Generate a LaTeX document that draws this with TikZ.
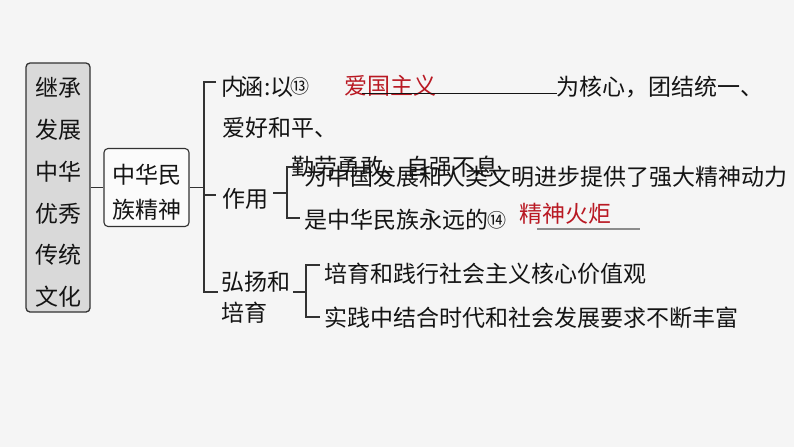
\documentclass[tikz,border=0pt]{standalone}
\usepackage{fontspec}
\setmainfont{Noto Sans CJK SC}
\definecolor{bgc}{RGB}{245,245,245}
\definecolor{ink}{RGB}{20,20,20}
\definecolor{linec}{RGB}{50,50,50}
\definecolor{redc}{RGB}{185,25,35}
\definecolor{boxfill}{RGB}{217,217,217}
\definecolor{ulgray}{RGB}{140,140,140}
\begin{document}
\begin{tikzpicture}[x=1pt,y=-1pt,
  txt/.style={anchor=base west, inner sep=0pt, text=ink, font=\fontsize{23}{23}\selectfont},
  redtxt/.style={txt, text=redc},
  circnum/.style={anchor=center, inner sep=0pt, text=ink, font=\fontsize{19}{19}\selectfont},
  conn/.style={draw=linec, line width=1.1pt},
  lbox/.style={draw=linec, line width=1.3pt, fill=boxfill, rounded corners=4pt, minimum width=64pt, minimum height=249pt, inner sep=0pt},
  mbox/.style={draw=linec, line width=1.1pt, fill=white!60!bgc, rounded corners=4pt, minimum width=85pt, minimum height=78pt, inner sep=0pt},
  boxtxt/.style={anchor=center, align=center, inner sep=0pt, text=ink}
]
\fill[bgc] (0,0) rectangle (794,447);
\useasboundingbox (0,0) rectangle (794,447);

% boxes
\node[lbox] (L) at (58,187.5) {};
\node[boxtxt, font=\fontsize{23}{41.8}\selectfont] (Ltxt) at (58,192.5) {继承\\发展\\中华\\优秀\\传统\\文化};
\node[mbox] (M) at (146.5,187.5) {};
\node[boxtxt, font=\fontsize{23}{35}\selectfont] (Mtxt) at (146.5,192.5) {中华民\\族精神};
\draw[conn] (L.east) -- (M.west);

% main bracket
\coordinate (j) at (204,187.5);
\coordinate (bt) at (204,82);
\coordinate (bt0) at (216,82);
\coordinate (bm) at (204,195);
\coordinate (bm0) at (216,195);
\coordinate (bb) at (204,292);
\coordinate (bb0) at (218,292);
\draw[conn] (M.east) -- (j);
\draw[conn] (bt0) -- (bt) -- (bb) -- (bb0);
\draw[conn] (bm) -- (bm0);

% 内涵
\node[txt] (nha) at (221,95.7) {内};
\node[txt] (nhb) at (240.5,95.7) {涵};
\node[txt, anchor=base] (colon) at (267.5,95.7) {:};
\node[txt] (yi) at (270.5,95.7) {以};
\node[circnum] (n13) at (300,86.5) {⑬};
\node[redtxt] (ans13) at (344,94) {爱国主义};
\coordinate (u1a) at (362,93);
\coordinate (u1b) at (557,93);
\draw[draw=ink, line width=1pt] (u1a) -- (u1b);
\node[txt] (nh2) at (556,95.7) {为核心，团结统一、};
\node[txt] (nh3) at (222,136.7) {爱好和平、};
\node[txt] (nh4) at (291,175.7) {勤劳勇敢、自强不息};

% 作用
\node[txt] (zy) at (222,207.7) {作用};
\coordinate (zt0) at (273,193);
\coordinate (zt1) at (287,193);
\coordinate (zbt) at (287,167);
\coordinate (zbt0) at (300,167);
\coordinate (zbb) at (287,218);
\coordinate (zbb0) at (300,218);
\draw[conn] (zt0) -- (zt1);
\draw[conn] (zbt0) -- (zbt) -- (zbb) -- (zbb0);
\node[txt] (zy1) at (304,185.7) {为中国发展和人类文明进步提供了强大精神动力};
\node[txt] (zy2) at (304,228.7) {是中华民族永远的};
\node[circnum] (n14) at (497,220.5) {⑭};
\node[redtxt] (ans14) at (519,222.7) {精神火炬};
\coordinate (u2a) at (537,229);
\coordinate (u2b) at (640,229);
\draw[draw=ulgray, line width=1.3pt] (u2a) -- (u2b);

% 弘扬和培育
\node[txt] (hy1) at (221,290.7) {弘扬和};
\node[txt] (hy2) at (221,321.7) {培育};
\coordinate (ht0) at (293,292);
\coordinate (ht1) at (306,292);
\coordinate (hbt) at (306,265);
\coordinate (hbt0) at (320,265);
\coordinate (hbb) at (306,317);
\coordinate (hbb0) at (320,317);
\draw[conn] (ht0) -- (ht1);
\draw[conn] (hbt0) -- (hbt) -- (hbb) -- (hbb0);
\node[txt] (hy3) at (324,282.7) {培育和践行社会主义核心价值观};
\node[txt] (hy4) at (324,326.7) {实践中结合时代和社会发展要求不断丰富};
\end{tikzpicture}
\end{document}
